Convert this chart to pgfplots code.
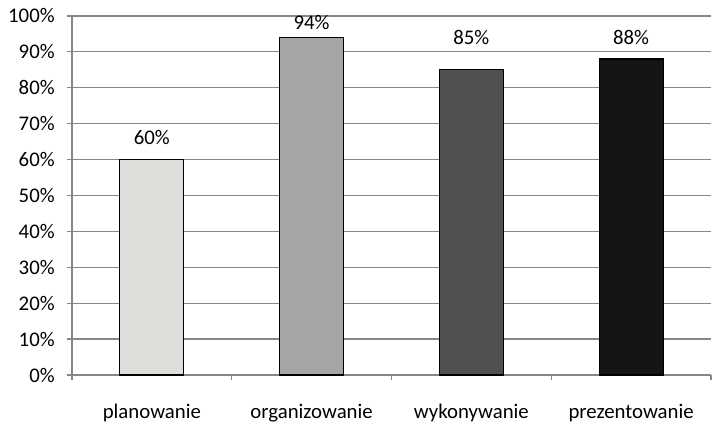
\documentclass[border=0pt]{standalone}
\usepackage{pgfplots}
\pgfplotsset{compat=1.18}
\usepackage{fontspec}
\setmainfont{Carlito}
\definecolor{gridgray}{HTML}{878787}
\definecolor{c1}{HTML}{DDDDD9}
\definecolor{c2}{HTML}{A5A5A5}
\definecolor{c3}{HTML}{505050}
\definecolor{c4}{HTML}{161513}
\begin{document}
\fontsize{10.4}{12}\selectfont
\begin{tikzpicture}
\begin{axis}[
  scale only axis, width=319.5pt, height=179.5pt,
  xmin=-0.5, xmax=3.5, ymin=0, ymax=100,
  axis x line*=bottom, axis y line*=left,
  x axis line style={-, draw=gridgray, line width=0.6pt},
  y axis line style={-, draw=gridgray, line width=0.6pt},
  ytick={0,10,...,100},
  yticklabel={\pgfmathprintnumber{\tick}\%},
  ymajorgrids, grid style={draw=gridgray, line width=0.6pt},
  xtick={0,1,2,3},
  xticklabels={planowanie,organizowanie,wykonywanie,prezentowanie},
  minor xtick={-0.5,0.5,1.5,2.5,3.5},
  tick align=outside, major tick length=2.5pt, minor tick length=2.5pt,
  major x tick style={draw=none},
  tick style={draw=gridgray, line width=0.6pt},
  x tick label style={anchor=base, yshift=-19.3pt},
  y tick label style={anchor=east, xshift=-2.5pt},
  /pgf/number format/assume math mode=true,
  ticklabel style={font=\fontsize{10.4}{12}\selectfont},
  ybar, bar width=32pt, bar shift=0pt,
  nodes near coords={\pgfmathprintnumber{\pgfplotspointmeta}\%},
  nodes near coords style={anchor=base, text=black, font=\fontsize{10.4}{12}\selectfont},
  clip=false,
]
\addplot[draw=black, fill=c1, line width=0.6pt, nodes near coords style={yshift=7.3pt}] coordinates {(0,60)};
\addplot[draw=black, fill=c2, line width=0.6pt, nodes near coords style={yshift=3.8pt}] coordinates {(1,94)};
\addplot[draw=black, fill=c3, line width=0.6pt, nodes near coords style={yshift=12.5pt}] coordinates {(2,85)};
\addplot[draw=black, fill=c4, line width=0.6pt, nodes near coords style={yshift=7.3pt}] coordinates {(3,88)};
\coordinate (O) at (rel axis cs:0,0);
\end{axis}
\pgfresetboundingbox
\path (O) ++(-36pt,-25.5pt) rectangle ++(358pt,213pt);
\end{tikzpicture}
\end{document}
